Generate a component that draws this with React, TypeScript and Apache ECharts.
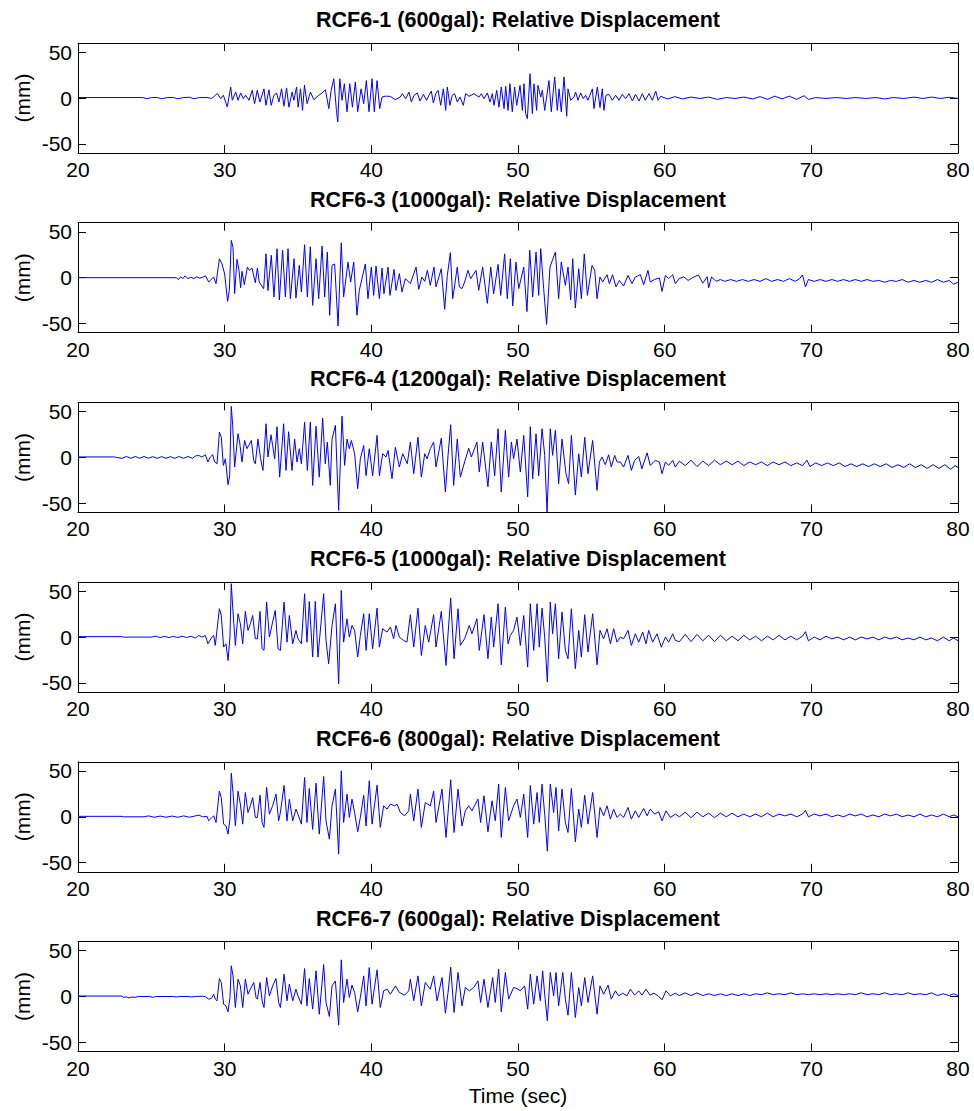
import React, { useEffect, useRef } from "react";
import * as echarts from "echarts";

const xTicks = [20, 30, 40, 50, 60, 70, 80];
const yTicks = [-50, 0, 50];
const titles = [
  "RCF6-1 (600gal): Relative Displacement",
  "RCF6-3 (1000gal): Relative Displacement",
  "RCF6-4 (1200gal): Relative Displacement",
  "RCF6-5 (1000gal): Relative Displacement",
  "RCF6-6 (800gal): Relative Displacement",
  "RCF6-7 (600gal): Relative Displacement",
];
const yName = "(mm)";
const xName = "Time (sec)";

type P = [number, number];

const rcf61: P[] = [
  [20, 0.5], [24.4, 0.5], [24.7, -0.8], [25.0, 0.5], [25.4, 0.5], [25.7, -0.8], [26.1, 0.5], [26.5, 0.5], [26.8, -0.8], [27.2, 0.5], [27.6, 0.8], [27.9, -0.8], [28.3, 0.5], [28.8, 0.5], [29.1, -0.5], [29.3, 2],
  [29.5, 5], [29.73, -0.7], [29.91, 3], [30.18, -9.8], [30.41, 12], [30.52, -2.5], [30.75, 6.5], [30.91, -2.5], [31.09, 5.5], [31.27, -0.7], [31.43, 3], [31.66, -2.5], [31.88, 8.4], [32.04, -6.2], [32.22, 8.4], [32.4, -4.4], [32.68, 10], [32.81, -8], [33.02, 9], [33.17, -8], [33.36, 3], [33.54, 5.5], [33.7, -4.4], [33.88, 10], [34.04, -9], [34.22, 11], [34.38, -10], [34.6, 6.5], [34.72, -2.5], [34.9, 12], [35.01, -10], [35.17, 10], [35.31, -13.5], [35.44, 14], [35.62, -6.2], [35.85, 6.5], [36.08, -1.8], [36.42, 3], [36.64, 5.5], [36.87, 9], [37.1, -11.6], [37.26, 8.4], [37.44, 21], [37.62, -13.5], [37.71, -26], [37.85, 21], [38.0, -2.5], [38.16, 15.6], [38.34, -15], [38.53, 15.6], [38.71, -10], [38.91, 17.5], [39.07, -15], [39.3, 10], [39.48, -6.2], [39.66, 19], [39.84, -15], [40.05, 21], [40.2, -15], [40.39, 19], [40.57, -11.6], [40.73, 1], [40.95, 2], [41.29, 1.8], [41.63, -1.8], [41.97, 1],
  [42.11, 4.7], [42.34, -0.7], [42.57, 6.5], [42.73, -4.4], [42.91, 2.9], [43.14, 5.5], [43.32, -3.3], [43.55, 4], [43.77, -2.5], [43.93, 3], [44.09, 7.6], [44.23, -5.5], [44.39, 4.7], [44.55, 8.4], [44.73, -8], [44.91, 10], [45.07, -13.5], [45.18, 12], [45.36, -8], [45.52, 3], [45.68, 4.7], [45.86, -4.4], [46.05, 1], [46.27, -8], [46.43, 4.7], [46.66, 1.8], [47.0, 4.7], [47.34, 1],
  [47.5, 4.7], [47.68, -0.7], [47.91, 5.5], [48.09, -4.4], [48.25, 4.7], [48.36, -8], [48.55, 8.4], [48.7, -10], [48.86, 12], [49.05, -11.6], [49.16, 12.7], [49.32, -13.5], [49.45, 15.6], [49.61, -15], [49.77, 12], [49.91, -8], [50.14, 13.8], [50.3, -13.5], [50.41, 15.6], [50.52, -17], [50.64, -22.5], [50.82, 26.5], [50.98, -17], [51.09, 15.6], [51.27, -13.5], [51.36, 13.8], [51.55, 1], [51.66, 8.4], [51.82, -13.5], [51.95, 1], [52.11, 19], [52.27, -15], [52.5, 23], [52.68, -13.5], [52.8, 10], [52.95, -15], [53.14, 23], [53.32, -20], [53.41, 10], [53.59, -2.5], [53.82, 1], [53.93, 6.5], [54.09, -2.5], [54.27, 5.5], [54.45, -0.7], [54.61, 3], [54.77, -2.5], [55.07, 10], [55.18, -11.6], [55.41, 12], [55.59, -10.5], [55.75, 10], [55.86, -13.5], [56.0, 3], [56.2, 4], [56.43, -2.5], [56.66, 3], [56.89, -2.5], [57.11, 4], [57.34, -0.7], [57.57, 4.7], [57.8, -3.3], [58.02, 4], [58.25, -3.3], [58.48, 4.7], [58.68, -2.5], [58.93, 4.7], [59.16, -2.5], [59.39, 7.6], [59.55, -2.5], [59.73, 1.8],
  [60.2, -1], [60.7, 1.5], [61.2, -1], [61.8, 1], [62.4, -0.5], [63.0, 1], [63.6, -1.5], [64.2, 0.5], [64.8, -0.5], [65.4, 1], [66.0, -1], [66.5, 1.5], [67.0, -1.5], [67.5, 2], [68.0, -1], [68.5, 2], [69.0, -1.5], [69.5, 2.5], [69.8, -1.5], [70.3, 0.5], [71.0, -0.5], [71.7, 0.5], [72.4, -0.5], [73.0, 0.5], [73.7, -0.5], [74.4, 0.5], [75.0, -1], [75.6, 0.5], [76.3, -0.5], [77.0, 1], [77.6, -0.5], [78.2, 1], [78.8, -0.5], [79.4, 0.8], [80.0, -0.5],
];

const rcf63: P[] = [
  [20, 0], [26.7, 0], [26.85, -2], [27.0, 1], [27.15, -1], [27.3, 2], [27.5, -1], [27.7, 0.5], [27.9, -1], [28.1, 1], [28.3, -0.5], [28.5, 0.5], [28.7, 2],
  [28.91, -4.7], [29.25, 0.7], [29.41, -6.5], [29.64, 20.7], [29.82, 15], [30.0, 4], [30.2, -25.8], [30.32, -13.8], [30.45, 40.7], [30.57, 33], [30.68, -17.4], [30.84, 20], [30.98, 8], [31.09, -11], [31.18, 7], [31.34, -7.6], [31.55, 11.6], [31.68, 8], [31.86, 10.5], [32.09, -5.5], [32.23, 10.5], [32.36, -4.7], [32.66, -12], [32.82, 26], [32.95, -14], [33.18, 24.4], [33.36, -21], [33.57, 31.6], [33.73, -24.4], [33.95, 30], [34.14, -21], [34.32, 31.6], [34.48, -22.9], [34.73, 20.7], [34.86, -22.2], [35.09, 13.5], [35.23, -15.6], [35.45, 36], [35.64, -21], [35.84, 33.8], [36.0, -30.2], [36.23, 20.7], [36.41, -22.9], [36.64, 34.5], [36.82, -21], [37.0, 28], [37.16, -41], [37.32, 13.5], [37.5, 15], [37.73, -52.7], [37.95, 38], [38.11, -21], [38.41, 17], [38.59, -4.7], [38.8, 17], [39.02, -41], [39.18, -13.8], [39.59, 15], [39.77, -22.9], [40.0, 11.6], [40.16, -19.3], [40.32, 12.7], [40.55, -22.9], [40.73, 10.5], [40.86, -17.5], [41.14, 11.6], [41.27, -19.3], [41.55, 9], [41.68, -13.8], [41.91, 4.4], [42.09, -15.6], [42.32, -1], [42.66, -6.5], [43.05, 11.6], [43.23, -12.7], [43.45, 0.7], [43.64, -4], [43.82, 8], [44.02, -8.4], [44.27, 11.6], [44.41, -10], [44.77, 9.8], [45.0, -34.5], [45.18, 2.5], [45.39, 27.3], [45.55, -22.9], [45.86, 11.6], [46.0, -10], [46.18, -12], [46.36, -4.7], [46.59, 8], [46.77, -1], [47.14, 8], [47.32, -13.8], [47.59, 11.6], [47.91, -28], [48.14, 11.6], [48.34, -17.5], [48.64, 14.5], [48.82, -19.3], [49.09, 26], [49.27, -22.9], [49.48, 20.7], [49.64, -30.9], [49.86, 17], [50.05, -12], [50.39, 11.6], [50.61, -37], [50.8, 30], [51.0, -21], [51.23, 28], [51.41, -19.3], [51.55, 31.6], [51.75, -12], [51.95, -51], [52.18, 11.6], [52.55, 28], [52.77, -22.9], [52.95, 17], [53.23, -8.4], [53.41, 11.6], [53.59, -24.4], [53.73, 20.7], [53.91, -33], [54.14, 9.8], [54.32, -22.9], [54.52, 26], [54.73, -19.3], [55.05, 13.5], [55.23, 8], [55.39, -22.9], [55.59, 0.7], [55.77, -4.7], [56.07, 3.3], [56.23, -6.5], [56.45, 3.3], [56.68, -10], [56.91, -2.9], [57.2, -9.1], [57.5, 2.5], [57.77, -6.5], [58.0, 0.7], [58.34, 3.3], [58.57, -7.6], [58.86, 8], [59.02, -4.7], [59.32, -1.8], [59.64, -0.4], [59.82, -15], [60.05, 2.5], [60.27, -1], [60.55, 3.3], [60.73, -6.5],
  [61.0, -1], [61.3, 1], [61.6, -3], [61.9, 0], [62.3, 3], [62.6, -6], [62.9, 1], [63.0, -11], [63.2, 1], [63.5, -4], [63.8, -2], [64.1, -4], [64.5, -2], [64.9, -4], [65.3, -2], [65.7, -4], [66.1, -2], [66.5, -4], [66.9, -1], [67.3, -4], [67.7, -2], [68.1, -4], [68.5, -1], [68.9, -4], [69.2, -1], [69.4, 3], [69.6, -10], [69.8, -2], [70.2, -4], [70.6, -2], [71.0, -4], [71.4, -2], [71.8, -4], [72.2, -2], [72.6, -4], [73.0, -2], [73.4, -4], [73.8, -2], [74.2, -4], [74.6, -3], [75.0, -5], [75.4, -3], [75.8, -4], [76.2, -2], [76.6, -5], [77.0, -3], [77.4, -5], [77.8, -3], [78.2, -5], [78.6, -2], [79.0, -5], [79.4, -3], [79.7, -7], [80.0, -5],
];

const rcf64: P[] = [
  [20, 0.5], [22.5, 0.5], [22.6, 0], [23.0, -1], [23.3, 1], [23.6, -1], [23.9, 1], [24.2, -1], [24.5, 1], [24.8, -1], [25.1, 0.8], [25.4, -1], [25.7, 0.8], [26.0, -1], [26.3, 0.8], [26.6, -1], [26.9, 1], [27.2, -1], [27.5, 1], [27.8, -1], [28.0, 1.5],
  [28.23, 2.2], [28.45, 0.4], [28.68, 2.9], [28.86, -5], [29.02, 0.4], [29.18, 2.9], [29.32, -5], [29.48, -6.9], [29.64, 27.6], [29.77, 22], [29.91, -8.7], [30.05, -1.5], [30.23, -29.8], [30.34, -20], [30.45, 55.6], [30.55, 34.5], [30.68, -10.5], [30.91, 25.8], [31.02, 16.7], [31.18, -5], [31.36, 18.5], [31.52, 9.5], [31.64, 13], [31.82, 18.5], [31.98, -3.3], [32.09, -6.9], [32.27, 20], [32.45, -1.5], [32.61, -14.2], [32.82, 36.7], [32.95, 0.4], [33.16, 24.7], [33.27, 13], [33.41, -1.5], [33.57, 33.5], [33.75, -21.5], [34.02, 36.7], [34.18, -14.2], [34.36, 28], [34.59, -14.2], [34.77, 20], [34.93, -5], [35.09, 9.5], [35.23, -6.9], [35.45, 38.5], [35.64, -14.2], [35.84, 38.5], [36.0, -30.5], [36.23, 34], [36.45, -21.5], [36.68, 42.9], [36.86, -6.9], [37.0, 16.7], [37.2, -30.5], [37.32, 20], [37.55, 34.9], [37.77, -57.8], [38.0, 45], [38.18, -8.7], [38.34, 20], [38.5, 9.5], [38.64, 18.5], [38.86, 4], [39.07, -34.2], [39.25, -1.5], [39.48, 13], [39.64, -20], [39.86, 9.5], [40.09, -20], [40.39, 24], [40.55, -20], [40.77, 4], [41.0, 0.4], [41.14, 7.6], [41.41, -23.3], [41.64, 11], [41.91, -10.5], [42.14, 4], [42.45, -6.9], [42.66, 16.7], [42.89, -17.8], [43.18, 22], [43.41, -21.5], [43.64, 4], [43.8, -1.5], [44.02, 9.5], [44.25, 16.7], [44.41, -10.5], [44.77, 21], [45.05, -37.8], [45.23, 2.2], [45.41, 35.6], [45.61, -30.5], [45.86, 20], [46.07, -21.5], [46.36, -5], [46.64, 10], [46.82, 0.4], [47.2, 16.7], [47.36, -16], [47.59, 16.7], [47.95, -32], [48.18, 16.7], [48.41, -20], [48.64, 31.3], [48.86, -37.8], [49.14, 29.5], [49.36, -21.5], [49.55, 16.7], [49.7, -1.5], [49.93, 20], [50.16, -16], [50.39, 24], [50.66, -43], [50.84, 33.5], [51.0, -23.3], [51.23, 25.8], [51.41, -20], [51.64, 31.3], [51.82, 2.2], [51.98, -59.6], [52.2, 31.3], [52.36, 2.2], [52.55, 29.5], [52.77, -28.7], [53.0, 20], [53.27, -17.8], [53.45, -28.7], [53.64, 24], [53.91, -41], [54.14, 4], [54.32, -21.5], [54.55, 22], [54.77, -17.8], [55.09, 18.5], [55.39, -36], [55.55, -5], [55.73, 0.4], [55.95, -8], [56.18, 2.9], [56.36, -10.5], [56.59, 2.2], [56.75, -5], [56.98, -5], [57.2, -10.5], [57.5, 2.2], [57.73, -14.2], [57.95, -3.3], [58.23, 1], [58.45, -12.4], [58.8, 5], [59.02, -8.7], [59.36, -3.3], [59.64, -5], [59.82, -17.8], [60.05, -5], [60.27, -8.7], [60.55, -3.3], [60.73, -10.5],
  [61.0, -4], [61.4, -9], [61.8, -3], [62.2, -10], [62.6, -4], [63.0, -9], [63.4, -3], [63.8, -8], [64.2, -4], [64.6, -8], [65.0, -4], [65.4, -9], [65.8, -5], [66.2, -8], [66.6, -5], [67.0, -9], [67.4, -5], [67.8, -8], [68.2, -5], [68.6, -9], [69.0, -6], [69.4, -9], [69.7, -3], [69.9, -10], [70.3, -6], [70.7, -9], [71.1, -6], [71.5, -9], [71.9, -6], [72.3, -10], [72.7, -7], [73.1, -10], [73.5, -7], [73.9, -10], [74.3, -7], [74.7, -10], [75.1, -7], [75.5, -11], [75.9, -8], [76.3, -11], [76.7, -7], [77.1, -11], [77.5, -8], [77.9, -12], [78.3, -8], [78.7, -12], [79.1, -8], [79.5, -13], [79.8, -9], [80.0, -11],
];

const rcf65: P[] = [
  [20, 0.5], [23.0, 0.5], [23.1, 0], [25.0, 0], [25.3, 1], [25.6, -0.5], [25.9, 0.8], [26.2, -0.5], [26.5, 0.8], [26.8, -0.5], [27.1, 1], [27.4, -0.5], [27.7, 1], [28.0, -1],
  [28.23, 1.8], [28.45, 0], [28.68, 1.8], [28.86, -7.3], [29.09, -1], [29.25, 1.8], [29.36, -9.1], [29.64, 30.9], [29.77, 23.6], [29.93, -10.9], [30.09, -7.3], [30.23, -25.5], [30.36, 0], [30.45, 58.2], [30.57, 27.3], [30.73, -9.1], [30.91, 25.5], [31.07, 14.5], [31.23, -7.3], [31.41, 28], [31.59, 7.3], [31.75, 14.5], [31.91, 23.6], [32.09, -1.8], [32.23, -1.8], [32.41, 28], [32.55, -12.7], [32.68, -14.5], [32.86, 38.2], [33.05, 0], [33.27, 16.4], [33.45, 29.1], [33.64, -12.7], [33.8, -14.5], [34.05, 38.2], [34.25, -5.5], [34.41, 23.6], [34.64, -7.3], [34.86, 7.3], [35.0, -1.8], [35.23, -7.3], [35.45, 47.3], [35.61, -5.5], [35.77, 38.9], [36.0, -21.8], [36.18, 38.9], [36.36, -21.8], [36.75, 47.3], [36.91, -3.6], [37.09, -29.1], [37.32, 12.7], [37.55, 36.4], [37.77, -50.9], [37.95, 50.9], [38.11, -5.5], [38.34, 20], [38.5, 0], [38.68, 12.7], [38.86, 7.3], [39.07, -21.8], [39.25, 1.8], [39.48, 25.5], [39.64, -14.5], [39.86, 25.5], [40.09, -12.7], [40.39, 31.6], [40.55, -10.9], [40.77, 9.1], [41.07, 5.5], [41.3, 10.9], [41.52, -1.8], [41.68, 12.7], [41.91, 0], [42.2, -3.6], [42.43, -5.5], [42.66, 24.4], [42.89, -10.9], [43.18, 31.6], [43.41, -20], [43.68, 12.7], [43.91, -5.5], [44.25, 24.4], [44.41, -10.9], [44.77, 28], [45.09, -30.9], [45.23, 3.6], [45.41, 42.5], [45.64, -23.6], [45.91, 30.9], [46.07, -9.1], [46.36, -1.8], [46.68, 12.7], [46.86, 3.6], [47.2, 20], [47.36, -14.5], [47.68, 24.4], [47.95, -23.6], [48.18, 21.8], [48.34, -10.9], [48.64, 36.4], [48.86, -30.2], [49.14, 32.7], [49.32, -7.3], [49.48, 1.8], [49.7, 7.3], [49.93, 21.8], [50.16, -9.1], [50.39, 23.6], [50.66, -32.7], [50.84, 36.4], [51.07, -14.5], [51.3, 36.4], [51.45, -10.9], [51.64, 31.6], [51.82, 0], [52.0, -49], [52.2, 38.2], [52.36, 3.6], [52.55, 36.4], [52.77, -23.6], [53.0, 27.3], [53.23, -14.5], [53.41, -23.6], [53.64, 30.9], [53.91, -34.5], [54.14, 7.3], [54.32, -21.8], [54.55, 24.4], [54.77, -16.4], [55.09, 25.5], [55.39, -30.2], [55.59, 7.3], [55.84, -1.8], [56.07, 9.1], [56.3, -7.3], [56.52, 9.1], [56.75, -5.5], [56.98, 0], [57.2, -1.8], [57.5, 7.3], [57.73, -9.1], [58.0, 3.6], [58.23, -5.5], [58.5, 5.5], [58.73, -7.3], [58.91, 7.3], [59.18, -5.5], [59.48, 3.6], [59.77, -10.9], [60.05, 0], [60.27, -5.5], [60.55, 3.6], [60.73, -3.6],
  [61.0, -5], [61.4, 3], [61.8, -5], [62.2, 3], [62.6, -4], [63.0, 2], [63.4, -5], [63.8, 2], [64.2, -4], [64.6, 1], [65.0, -4], [65.4, 2], [65.8, -3], [66.2, 1], [66.6, -4], [67.0, 1], [67.4, -3], [67.8, 2], [68.2, -3], [68.6, 1], [69.0, -3], [69.4, 1], [69.6, 6], [69.8, -4], [70.2, 0], [70.6, -3], [71.0, 1], [71.4, -2], [71.8, 0], [72.2, -3], [72.6, 0], [73.0, -3], [73.4, 0], [73.8, -2], [74.2, 0], [74.6, -3], [75.0, 0], [75.4, -2], [75.8, 0], [76.2, -3], [76.6, -1], [77.0, -3], [77.4, 0], [77.8, -3], [78.2, -1], [78.6, -4], [79.0, 0], [79.4, -4], [79.7, -1], [80.0, -4],
];

const rcf66: P[] = [
  [20, 0.5], [23.0, 0.5], [23.1, 0], [24.5, 0], [24.8, 1], [25.2, -0.5], [25.6, 0.8], [26.0, -0.5], [26.4, 0.8], [26.8, -0.5], [27.2, 1], [27.6, -0.5], [28.0, 1],
  [28.23, 1.8], [28.5, 0], [28.8, 0.4], [28.91, -4.4], [29.14, -0.7], [29.25, 1.1], [29.41, -6.2], [29.64, 28], [29.77, 21], [29.93, -8], [30.09, -9.8], [30.23, -18.9], [30.36, -2.5], [30.45, 47.6], [30.57, 26.5], [30.73, -9.8], [30.91, 28], [31.07, 13.8], [31.23, -8], [31.41, 26.5], [31.59, 4.7], [31.75, 12], [31.91, 21], [32.09, -0.7], [32.23, -0.7], [32.41, 23.6], [32.55, -6.2], [32.68, -11.6], [32.86, 32], [33.05, 2.9], [33.27, 12], [33.5, 24.7], [33.68, -4.4], [33.8, 4.7], [34.05, 34.2], [34.25, -4.4], [34.41, 19.3], [34.64, -4.4], [34.86, 8.4], [35.0, 2.9], [35.23, -8], [35.45, 42.9], [35.61, -6.2], [35.77, 30.9], [36.0, -13.8], [36.23, 36.7], [36.45, -18.9], [36.75, 44], [36.91, -4.4], [37.14, -24.4], [37.32, 12], [37.55, 30.2], [37.77, -40.7], [37.95, 50.2], [38.11, -6.2], [38.34, 24.7], [38.5, -0.7], [38.68, 19.3], [38.86, 4.7], [39.07, -16.4], [39.25, -0.7], [39.48, 23.6], [39.64, -10], [39.86, 39.3], [40.05, -8], [40.39, 34.5], [40.61, -11.6], [40.84, 12], [41.07, 8.4], [41.3, 13.8], [41.59, 12], [41.75, 13.8], [41.98, 4.7], [42.27, 1.1], [42.55, 6.5], [42.66, 24.7], [42.89, -4.4], [43.18, 30.2], [43.41, -11.6], [43.68, 15.6], [44.02, 12], [44.25, 28], [44.41, -6.2], [44.82, 30.2], [45.09, -22.5], [45.23, 4.7], [45.41, 40.4], [45.64, -17.1], [45.91, 30.2], [46.18, -10], [46.41, 6.5], [46.64, 12], [46.86, 6.5], [47.27, 19.3], [47.45, -6.2], [47.68, 22.9], [47.95, -16.4], [48.23, 17.5], [48.45, -4.4], [48.68, 35.6], [48.86, -22.5], [49.14, 32], [49.36, -4.4], [49.7, 12], [49.93, 19.3], [50.16, -0.7], [50.39, 24.7], [50.66, -22.5], [50.84, 34.2], [51.07, -8], [51.3, 26.5], [51.45, -6.2], [51.64, 35.6], [51.82, 2.9], [52.0, -37.5], [52.2, 35.6], [52.43, 4.7], [52.59, 32], [52.77, -15.3], [53.0, 30.2], [53.23, -6.2], [53.41, -17.1], [53.64, 30.9], [53.91, -27.3], [54.14, 8.4], [54.32, -11.6], [54.55, 23.6], [54.77, -8], [55.09, 26.5], [55.39, -22.5], [55.59, 10.2], [55.84, 1.1], [56.07, 12], [56.3, -2.5], [56.52, 8.4], [56.75, -0.7], [56.98, 2.9], [57.2, -0.7], [57.5, 10.2], [57.73, -2.5], [58.0, 6.5], [58.23, -0.7], [58.57, 9.1], [58.8, 1.1], [59.02, 8.4], [59.32, 2.9], [59.59, 5.5], [59.82, -4.4], [60.09, 6.5], [60.39, -0.7], [60.73, 2.9],
  [61.0, 0], [61.4, 5], [61.8, -1], [62.2, 5], [62.6, 0], [63.0, 4], [63.4, -1], [63.8, 4], [64.2, 0], [64.6, 4], [65.0, 0], [65.4, 3], [65.8, 0], [66.2, 3], [66.6, 0], [67.0, 4], [67.4, 0], [67.8, 3], [68.2, 1], [68.6, 3], [69.0, 0], [69.4, 3], [69.6, 7], [69.8, 0], [70.2, 3], [70.6, 1], [71.0, 3], [71.4, 0], [71.8, 2], [72.2, 0], [72.6, 3], [73.0, 1], [73.4, 3], [73.8, 0], [74.2, 2], [74.6, 0], [75.0, 3], [75.4, 1], [75.8, 3], [76.2, 0], [76.6, 2], [77.0, 0], [77.4, 3], [77.8, 0], [78.2, 2], [78.6, 0], [79.0, 3], [79.4, 0], [79.7, 2], [80.0, 0],
];

const rcf67: P[] = [
  [20, 0.5], [23.0, 0.5], [23.1, -1], [23.3, -0.5], [23.5, -1.5], [23.7, -0.5], [23.9, -1], [24.1, 0], [24.9, 0], [25.1, -1], [25.3, 0], [26.5, 0], [26.7, -0.5], [26.9, 0], [27.5, 0], [27.7, -0.5], [28.0, 0], [28.5, 0.3], [28.7, -0.3],
  [28.91, -2.9], [29.09, -2.2], [29.25, 2.5], [29.36, -2.9], [29.48, -4.7], [29.64, 19.6], [29.77, 15.3], [29.93, -8.4], [30.09, -10.2], [30.23, -16.7], [30.36, -1.1], [30.45, 33.5], [30.57, 22.5], [30.73, -12], [30.91, 18.9], [31.07, 11.6], [31.23, -12], [31.41, 18.9], [31.59, 2.5], [31.75, 8], [31.98, 15.3], [32.14, -1.1], [32.23, -2.9], [32.41, 15.3], [32.55, -4.7], [32.68, -12], [32.86, 20.7], [33.05, 0.7], [33.27, 11.6], [33.5, 19.6], [33.68, -6.5], [33.8, -12], [34.05, 24.4], [34.25, -4.7], [34.41, 13.5], [34.64, -4.7], [34.86, 8], [35.0, 0.7], [35.23, -8.4], [35.45, 30.5], [35.61, -10.2], [35.77, 19.6], [36.0, -13.8], [36.23, 28], [36.45, -19.3], [36.75, 34.9], [36.91, -6.5], [37.14, -21.8], [37.32, 11.6], [37.55, 17], [37.77, -31.3], [37.95, 40], [38.11, -6.5], [38.34, 18.9], [38.5, -1.1], [38.68, 12.4], [38.86, 4.4], [39.07, -16.7], [39.25, -1.1], [39.48, 22.5], [39.64, -10.2], [39.86, 31.6], [40.05, -8.4], [40.39, 29.1], [40.61, -12], [40.84, 6.2], [41.07, 8], [41.3, 2.5], [41.64, 11.6], [41.91, 4.4], [42.27, 1.5], [42.55, 6.2], [42.66, 18.9], [42.89, -4.7], [43.18, 22.5], [43.41, -10.2], [43.68, 15.3], [44.02, 8], [44.25, 22.5], [44.48, -4.7], [44.82, 20.7], [45.05, -18.2], [45.23, 4.4], [45.41, 32], [45.64, -17.5], [45.91, 26.2], [46.18, -10.2], [46.41, 9.8], [46.68, 6.2], [46.98, 9.8], [47.27, 17], [47.45, -6.5], [47.68, 18.9], [47.95, -12], [48.27, 20.7], [48.45, -6.5], [48.68, 29.8], [48.86, -16.7], [49.14, 26.2], [49.36, -2.9], [49.7, 9.8], [49.93, 8.7], [50.16, 6.2], [50.45, 11.6], [50.66, -13.8], [50.84, 24.4], [51.07, -8.4], [51.3, 22.5], [51.52, -4.7], [51.68, 28], [51.82, 2.5], [52.0, -26.5], [52.2, 26.2], [52.43, 0.7], [52.59, 26.2], [52.77, -10.2], [53.05, 26.2], [53.23, -2.9], [53.41, -20.4], [53.64, 26.2], [53.91, -22.9], [54.14, 9.8], [54.32, -10.2], [54.55, 20.7], [54.77, -6.5], [55.09, 22.5], [55.39, -19.3], [55.59, 11.6], [55.84, 2.5], [56.14, 12.4], [56.36, -2.9], [56.64, 6.2], [56.86, 0.7], [57.14, 3.6], [57.43, 0.7], [57.66, 8], [57.95, 1.5], [58.23, 6.2], [58.45, 1.5], [58.73, 8], [59.0, 1.5], [59.27, 3.6], [59.55, 0.7], [59.82, -3.6], [60.09, 6.2], [60.39, 0.7], [60.73, 3.6],
  [61.0, 1], [61.4, 4], [61.8, 1], [62.2, 4], [62.6, 1], [63.0, 3], [63.4, 1], [63.8, 3], [64.2, 1], [64.6, 3], [65.0, 1], [65.4, 3], [65.8, 1], [66.2, 3], [66.6, 2], [67.0, 4], [67.4, 2], [67.8, 3], [68.2, 2], [68.6, 4], [69.0, 2], [69.4, 3], [69.8, 2], [70.2, 3], [70.6, 2], [71.0, 3], [71.4, 2], [71.8, 3], [72.2, 2], [72.6, 3], [73.0, 2], [73.4, 4], [73.8, 2], [74.2, 3], [74.6, 2], [75.0, 4], [75.4, 2], [75.8, 3], [76.2, 2], [76.6, 4], [77.0, 2], [77.4, 3], [77.8, 2], [78.2, 4], [78.6, 1], [79.0, 3], [79.4, 1], [79.7, 3], [80.0, 1],
];

const panels = [rcf61, rcf63, rcf64, rcf65, rcf66, rcf67];

export default function App() {
  const ref = useRef<HTMLDivElement>(null);
  useEffect(() => {
    if (!ref.current) return;
    const chart = echarts.init(ref.current, null, { renderer: "svg" });
    const font = "'Liberation Sans', Arial, Helvetica, sans-serif";
    const top0 = 43;
    const step = 179.7;
    const h = 110;
    const left = 78;
    const right = 16;
    const fs = 21;
    const tfs = 21.5;
    const grid: any[] = [];
    const xAxis: any[] = [];
    const yAxis: any[] = [];
    const series: any[] = [];
    const graphic: any[] = [];
    const axisLine = { show: true, onZero: false, lineStyle: { color: "#000", width: 1 } };
    const tick = { show: true, inside: true, length: 8, lineStyle: { color: "#000", width: 1 } };
    panels.forEach((data, k) => {
      const top = top0 + step * k;
      grid.push({ left, right, top, height: h, containLabel: false, show: false });
      xAxis.push({
        type: "value", gridIndex: k, position: "bottom", min: xTicks[0], max: xTicks[xTicks.length - 1], interval: 10,
        axisLine, axisTick: tick,
        axisLabel: { color: "#000", fontSize: fs, fontFamily: font, margin: 6 },
        splitLine: { show: false },
      });
      xAxis.push({
        type: "value", gridIndex: k, position: "top", min: xTicks[0], max: xTicks[xTicks.length - 1], interval: 10,
        axisLine, axisTick: tick, axisLabel: { show: false }, splitLine: { show: false },
      });
      yAxis.push({
        type: "value", gridIndex: k, position: "left", min: -60, max: 60,
        axisLine, axisTick: { ...tick, customValues: yTicks },
        axisLabel: { customValues: yTicks, color: "#000", fontSize: fs, fontFamily: font, margin: 6 },
        splitLine: { show: false },
      });
      yAxis.push({
        type: "value", gridIndex: k, position: "right", min: -60, max: 60,
        axisLine, axisTick: { ...tick, customValues: yTicks },
        axisLabel: { show: false, customValues: yTicks }, splitLine: { show: false },
      });
      series.push({
        type: "line", xAxisIndex: 2 * k, yAxisIndex: 2 * k, data,
        showSymbol: false, symbol: "none", silent: true, clip: true,
        lineStyle: { color: "#0000ff", width: 1 },
      });
      graphic.push({
        type: "text", x: left + (974 - left - right) / 2, y: 20 + step * k,
        style: { text: titles[k], fill: "#000", font: `bold ${tfs}px ${font}`, align: "center", verticalAlign: "middle" },
      });
      graphic.push({
        type: "text", x: 22, y: top + h / 2, rotation: Math.PI / 2,
        style: { text: yName, fill: "#000", font: `${fs}px ${font}`, align: "center", verticalAlign: "middle" },
      });
    });
    graphic.push({
      type: "text", x: left + (974 - left - right) / 2, y: 1095,
      style: { text: xName, fill: "#000", font: `${fs}px ${font}`, align: "center", verticalAlign: "middle" },
    });
    chart.setOption({
      animation: false,
      backgroundColor: "#fff",
      grid, xAxis, yAxis, series, graphic,
    });
    return () => chart.dispose();
  }, []);
  return (
    <div
      ref={ref}
      style={{ position: "absolute", left: 0, top: 0, width: 974, height: 1111, background: "#fff" }}
    />
  );
}
